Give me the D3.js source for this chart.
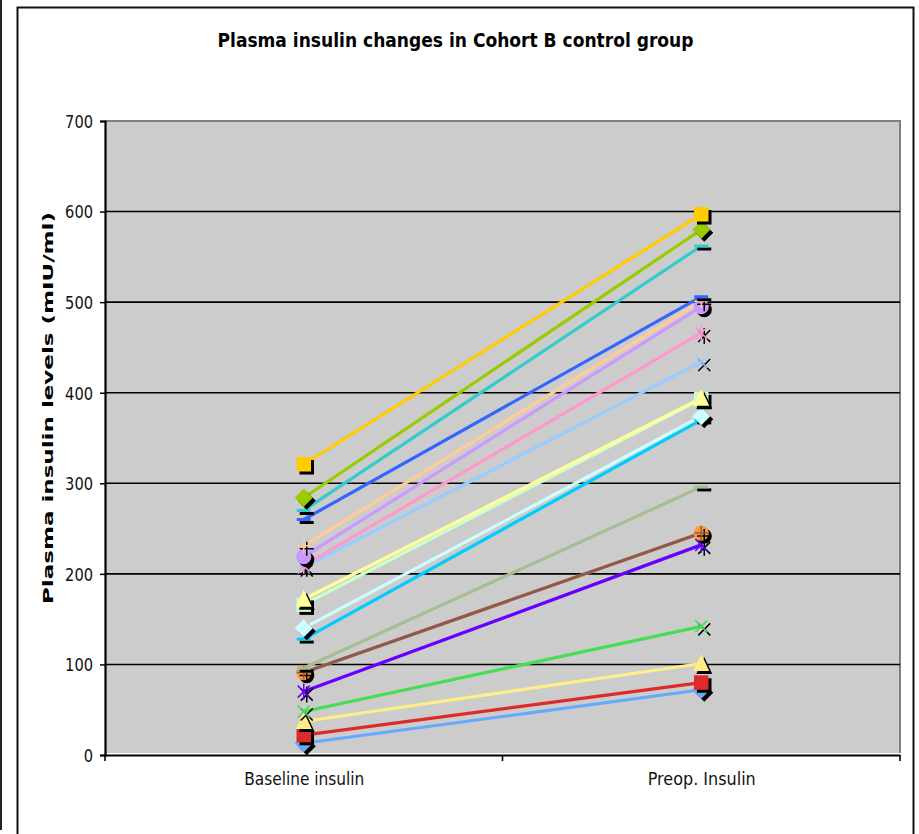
<!DOCTYPE html>
<html>
<head>
<meta charset="utf-8">
<script src="https://cdn.jsdelivr.net/npm/d3@7"></script>
<style>
  html, body { margin: 0; padding: 0; background: #ffffff; }
  svg { display: block; }
</style>
</head>
<body>
<svg id="chart" width="919" height="834"></svg>
<script>
// ---------- data ----------
const categories = ["Baseline insulin", "Preop. Insulin"];
const yTicks = [0, 100, 200, 300, 400, 500, 600, 700];
const titleText = "Plasma insulin changes in Cohort B control group";
const yAxisTitle = "Plasma insulin levels (mIU/ml)";

const baselineValues = [321, 284, 270, 260, 231, 219, 209, 207, 172, 166, 140, 128, 96, 91, 91, 70, 48, 37, 22, 13];
const preopValues    = [597, 580, 562, 506, 501, 495, 466, 434, 394, 393, 374, 370, 296, 245, 245, 232, 142, 101, 80, 72];
const seriesColors = ["#FFCC00", "#99CC00", "#33CCCC", "#3366FF", "#FFCC99", "#CC99FF", "#FF99CC", "#99CCFF",
                      "#FFFF99", "#CCFFCC", "#CCFFFF", "#00CCFF", "#A3BF93", "#8B5A52", "#FF9933", "#6600FF",
                      "#44DD55", "#FFEE88", "#DD2A2A", "#66AAFF"];
const seriesMarkers = ["square", "diamond", "dash", "dash", "plus", "circle", "star", "x",
                       "triangle", "square", "diamond", "dash", "dash", "plus", "circle", "star",
                       "x", "triangle", "square", "diamond"];

// ---------- layout ----------
const svg = d3.select("#chart");
const plot = { left: 105, right: 900, top: 121, bottom: 755 };

const x = d3.scalePoint().domain(categories).range([plot.left, plot.right]).padding(0.5);
const y = d3.scaleLinear().domain([0, 700]).range([plot.bottom, plot.top]);

// frames
svg.append("line").attr("x1", 1).attr("x2", 1).attr("y1", 0).attr("y2", 830)
  .attr("stroke", "#222").attr("stroke-width", 2);
svg.append("rect").attr("x", 17.5).attr("y", 7.5).attr("width", 896).attr("height", 840)
  .attr("fill", "#fff").attr("stroke", "#111").attr("stroke-width", 2);

// plot area
svg.append("rect").attr("x", plot.left).attr("y", plot.top)
  .attr("width", plot.right - plot.left).attr("height", plot.bottom - plot.top - 2)
  .attr("fill", "#CCCCCC");
svg.append("path")
  .attr("d", `M${plot.left},${plot.top}H${plot.right}V${plot.bottom - 2}`)
  .attr("fill", "none").attr("stroke", "#808080").attr("stroke-width", 2);

// gridlines
svg.append("g").selectAll("line").data(yTicks.filter(t => t > 0 && t < 700)).join("line")
  .attr("x1", plot.left).attr("x2", plot.right)
  .attr("y1", d => y(d)).attr("y2", d => y(d))
  .attr("stroke", "#000").attr("stroke-width", 1.6);

// text helper: fit text to measured width
function fitText(sel, len) {
  sel.attr("textLength", len).attr("lengthAdjust", "spacingAndGlyphs");
}

// y axis
const yAxis = d3.axisLeft(y).tickValues(yTicks).tickSize(5).tickPadding(7).tickFormat(d3.format("d"));
const gy = svg.append("g").attr("transform", `translate(${plot.left},0)`).call(yAxis);
gy.select(".domain").attr("stroke", "#000").attr("stroke-width", 2.2);
gy.selectAll(".tick line").attr("stroke", "#000").attr("stroke-width", 1.5);
gy.selectAll(".tick text")
  .attr("font-family", "DejaVu Sans").attr("font-size", 17.5).attr("fill", "#111")
  .attr("dy", "0.36em")
  .each(function(d) { fitText(d3.select(this), String(d).length * 9.3); });

// x axis
const xAxis = d3.axisBottom(x).tickSize(0).tickPadding(18);
const gx = svg.append("g").attr("transform", `translate(0,${plot.bottom})`).call(xAxis);
gx.select(".domain").attr("stroke", "#000").attr("stroke-width", 2.2);
gx.selectAll(".tick text")
  .attr("font-family", "DejaVu Sans").attr("font-size", 17.5).attr("fill", "#111")
  .attr("dy", "0.71em")
  .each(function(d) { fitText(d3.select(this), d === categories[0] ? 120 : 108); });
// x category separator ticks
const xSep = [plot.left, (plot.left + plot.right) / 2, plot.right];
svg.append("g").selectAll("line").data(xSep).join("line")
  .attr("x1", d => d).attr("x2", d => d).attr("y1", plot.bottom).attr("y2", plot.bottom + 6)
  .attr("stroke", "#000").attr("stroke-width", 1.6);

// title
fitText(svg.append("text").attr("x", 455.5).attr("y", 47)
  .attr("text-anchor", "middle").attr("font-family", "DejaVu Sans").attr("font-weight", "bold")
  .attr("font-size", 19.5).attr("fill", "#000").text(titleText), 476);

// y axis title
fitText(svg.append("text").attr("transform", "translate(53,408) rotate(-90)")
  .attr("text-anchor", "middle").attr("font-family", "DejaVu Sans").attr("font-weight", "bold")
  .attr("font-size", 14.5).attr("fill", "#000").text(yAxisTitle), 392);

// ---------- series ----------
const series = baselineValues.map((b, i) => ({
  color: seriesColors[i], marker: seriesMarkers[i],
  points: [{ c: categories[0], v: b }, { c: categories[1], v: preopValues[i] }]
}));
// first series ends up on top: draw in reverse order
const drawOrder = series.slice().reverse();

const line = d3.line().x(d => x(d.c)).y(d => y(d.v));
svg.append("g").selectAll("path").data(drawOrder).join("path")
  .attr("d", d => line(d.points))
  .attr("fill", "none").attr("stroke", d => d.color).attr("stroke-width", 3.2);

// marker drawing
function drawMarker(g, type, color) {
  const fillShape = (path) => g.append("path").attr("d", path).attr("fill", color);
  const strokeShape = (path, w) => g.append("path").attr("d", path).attr("fill", "none")
    .attr("stroke", color).attr("stroke-width", w);
  switch (type) {
    case "square": fillShape(d3.symbol(d3.symbolSquare, 210)()); break;
    case "circle": fillShape(d3.symbol(d3.symbolCircle, 180)()); break;
    case "triangle": fillShape("M0,-9.5L8,7.5L-8,7.5Z"); break;
    case "diamond": fillShape("M0,-9L9,0L0,9L-9,0Z"); break;
    case "dash": fillShape("M-7,-1.5H7V1.5H-7Z"); break;
    case "plus": strokeShape("M-7,0H7M0,-7V7", 1.5); break;
    case "x": strokeShape("M-6,-6L6,6M-6,6L6,-6", 1.5); break;
    case "star": strokeShape("M-6,-6L6,6M-6,6L6,-6M0,-8V8", 1.5); break;
  }
}

const markerLayer = svg.append("g");
drawOrder.forEach(s => {
  s.points.forEach(p => {
    const g = markerLayer.append("g").attr("transform", `translate(${x(p.c)},${y(p.v)})`);
    const sh = g.append("g").attr("transform", "translate(3,3)");
    drawMarker(sh, s.marker, "#000");
    drawMarker(g, s.marker, s.color);
  });
});
</script>
</body>
</html>
